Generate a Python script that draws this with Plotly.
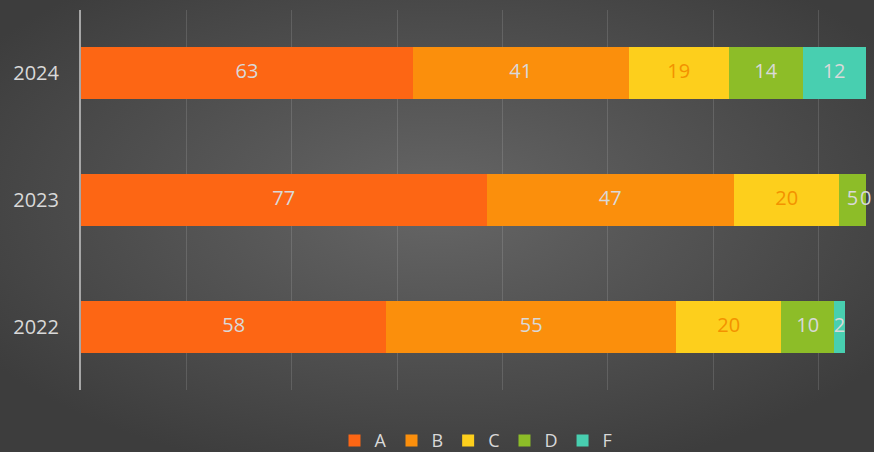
import base64
import plotly.graph_objects as go

years = ["2022", "2023", "2024"]
series_names = ["A", "B", "C", "D", "F"]
A = [58, 77, 63]
B = [55, 47, 41]
C = [20, 20, 19]
D = [10, 5, 14]
F = [2, 0, 12]
values = [A, B, C, D, F]

bar_colors = ["#fd6614", "#fb8f0c", "#fdcf1c", "#8dbd28", "#48cfb0"]
label_colors = ["#d9d9d9", "#d9d9d9", "#f39200", "#d9d9d9", "#d9d9d9"]

W, H = 874, 452
ml, mr, mt, mb = 81, 3, 10, 62
pw, ph = W - ml - mr, H - mt - mb

svg = f'''<svg xmlns="http://www.w3.org/2000/svg" width="{W}" height="{H}" viewBox="0 0 {W} {H}">
<defs><radialGradient id="g" cx="50%" cy="45%" r="62%">
<stop offset="0%" stop-color="#666666"/><stop offset="100%" stop-color="#3d3d3d"/>
</radialGradient></defs><rect width="{W}" height="{H}" fill="url(#g)"/></svg>'''
bg_src = "data:image/svg+xml;base64," + base64.b64encode(svg.encode()).decode()

fig = go.Figure()
font_family = "Open Sans, Noto Sans, sans-serif"

for name, vals, col in zip(series_names, values, bar_colors):
    fig.add_trace(go.Bar(
        name=name, y=years, x=vals, orientation="h",
        marker=dict(color=col, line=dict(width=0)),
        textposition="none", hoverinfo="x+name",
    ))

base = [0, 0, 0]
for name, vals, lc in zip(series_names, values, label_colors):
    mids = [b + v / 2 for b, v in zip(base, vals)]
    fig.add_trace(go.Scatter(
        x=mids, y=years, mode="text", text=[str(v) for v in vals],
        textfont=dict(color=lc, size=20, family=font_family),
        showlegend=False, hoverinfo="skip", cliponaxis=False,
    ))
    base = [b + v for b, v in zip(base, vals)]

fig.update_layout(
    width=W, height=H,
    margin=dict(l=ml, r=mr, t=mt, b=mb),
    barmode="stack", bargap=0.59,
    paper_bgcolor="#4a4a4a", plot_bgcolor="rgba(0,0,0,0)",
    font=dict(family=font_family, color="#d9d9d9", size=19),
    images=[dict(source=bg_src, xref="paper", yref="paper",
                 x=-ml / pw, y=1 + mt / ph, sizex=W / pw, sizey=H / ph,
                 xanchor="left", yanchor="top", sizing="stretch", layer="below")],
    xaxis=dict(range=[0, 150], dtick=20, showgrid=True, gridcolor="rgba(255,255,255,0.13)",
               gridwidth=1, showticklabels=False, zeroline=False, showline=False, fixedrange=True),
    yaxis=dict(type="category", categoryorder="array", categoryarray=years,
               showline=True, linecolor="#a6a6a6", linewidth=2, showgrid=False,
               ticks="", ticklabelstandoff=16, tickfont=dict(size=20, color="#d9d9d9"),
               fixedrange=True),
    legend=dict(orientation="h", xanchor="center", x=0.5, yref="container",
                yanchor="middle", y=0.025, font=dict(size=18, color="#d9d9d9"),
                itemwidth=30, bgcolor="rgba(0,0,0,0)", traceorder="normal"),
    showlegend=True,
)

fig.write_html("out.html",
               config={"displayModeBar": False},
               post_script="document.body.style.margin='0';document.body.style.padding='0';"
                           "document.body.style.overflow='hidden';")
